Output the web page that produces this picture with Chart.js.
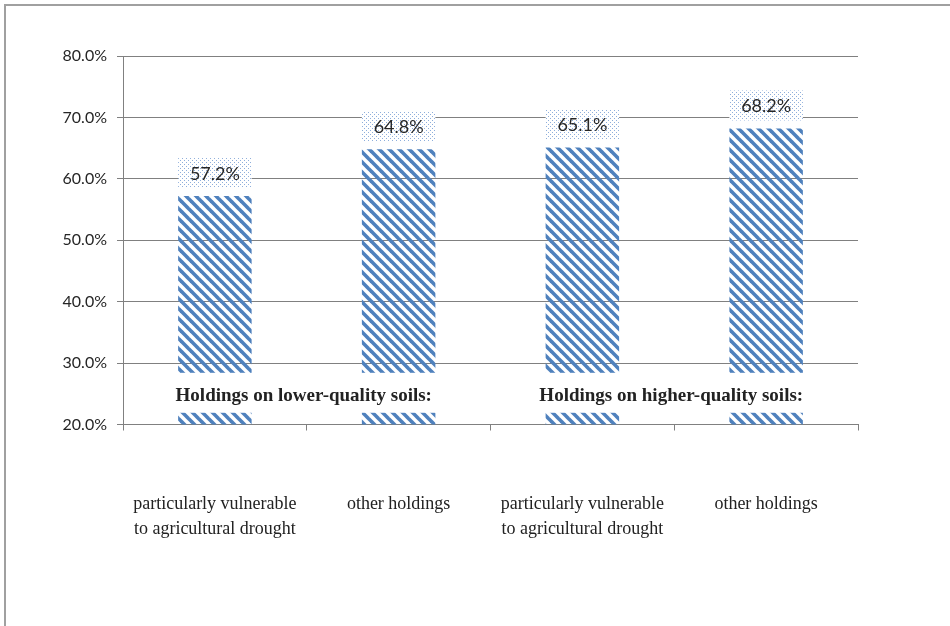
<!DOCTYPE html>
<html>
<head>
<meta charset="utf-8">
<script src="https://cdn.jsdelivr.net/npm/chart.js@4.4.1/dist/chart.umd.min.js"></script>
<style>
  html, body { margin: 0; padding: 0; background: #fff; }
  #chart { display: block; }
</style>
</head>
<body>
<canvas id="chart" width="950" height="626"></canvas>
<script>
const categories = [
    ["particularly vulnerable", "to agricultural drought"],
    ["other holdings"],
    ["particularly vulnerable", "to agricultural drought"],
    ["other holdings"]
];
const shares = [57.2, 64.8, 65.1, 68.2];
const yTicks = [20, 30, 40, 50, 60, 70, 80];
const groupLabels = ["Holdings on lower-quality soils:", "Holdings on higher-quality soils:"];
const groupSpans = [[0, 1], [2, 3]];
const groupLabelValue = 25;

// diagonal stripes for the bars
function makeStripes() {
    const c = document.createElement("canvas");
    c.width = 10;
    c.height = 10;
    const g = c.getContext("2d");
    g.strokeStyle = "#4f81bd";
    g.lineWidth = 3.6;
    for (let k = -1; k <= 1; k++) {
        g.beginPath();
        g.moveTo(-2, -2 + 10 * k);
        g.lineTo(12, 12 + 10 * k);
        g.stroke();
    }
    return g.createPattern(c, "repeat");
}

// light dotted fill behind the value labels
function makeDots() {
    const c = document.createElement("canvas");
    c.width = 4;
    c.height = 4;
    const g = c.getContext("2d");
    g.fillStyle = "#fff";
    g.fillRect(0, 0, 4, 4);
    g.fillStyle = "#8eaedb";
    g.fillRect(0, 0, 1, 1);
    g.fillRect(2, 2, 1, 1);
    return g.createPattern(c, "repeat");
}

const ctx = document.getElementById("chart");
const stripes = makeStripes();
const dots = makeDots();

const framePlugin = {
    id: "frame",
    beforeDraw(chart) {
        const c = chart.ctx;
        c.save();
        c.strokeStyle = "#a0a0a0";
        c.lineWidth = 2;
        c.beginPath();
        c.moveTo(5, 700);
        c.lineTo(5, 5);
        c.lineTo(960, 5);
        c.stroke();
        c.restore();
    }
};

const labelsPlugin = {
    id: "barLabels",
    afterDatasetsDraw(chart) {
        const c = chart.ctx;
        const meta = chart.getDatasetMeta(0);
        const x = chart.scales.x;
        const y = chart.scales.y;
        c.save();

        // value boxes above each bar
        meta.data.forEach((bar, i) => {
            const w = bar.width;
            const top = bar.y - 38;
            c.fillStyle = dots;
            c.fillRect(bar.x - w / 2, top, w, 30);
            c.fillStyle = "#262626";
            c.font = "18px Lato";
            c.textAlign = "center";
            c.textBaseline = "middle";
            c.fillText(shares[i].toFixed(1) + "%", bar.x, top + 16);
        });

        // group captions on white boxes across the bars
        groupLabels.forEach((text, i) => {
            const a = x.getPixelForValue(groupSpans[i][0]);
            const b = x.getPixelForValue(groupSpans[i][1]);
            const cx = (a + b) / 2 - 3;
            const cy = y.getPixelForValue(groupLabelValue);
            c.fillStyle = "#fff";
            c.fillRect(a - 42, cy - 21, b - a + 84, 40);
            c.fillStyle = "#222";
            c.font = "bold 19px 'Liberation Serif'";
            c.textAlign = "center";
            c.textBaseline = "middle";
            c.fillText(text, cx, cy + 2);
        });
        c.restore();
    }
};

new Chart(ctx, {
    type: "bar",
    data: {
        labels: categories,
        datasets: [{
            data: shares,
            backgroundColor: stripes,
            borderWidth: 0,
            barPercentage: 0.8,
            categoryPercentage: 0.5
        }]
    },
    options: {
        responsive: false,
        animation: false,
        layout: {
            padding: { top: 56, right: 92, bottom: 0, left: 0 }
        },
        scales: {
            x: {
                afterFit: function(scale) { scale.height = 201.5; },
                grid: {
                    drawOnChartArea: false,
                    drawTicks: true,
                    tickLength: 6,
                    color: "#808080",
                    offset: true
                },
                border: { color: "#808080" },
                ticks: {
                    padding: 62,
                    color: "#222",
                    font: { family: "'Liberation Serif'", size: 18, lineHeight: 1.35 },
                    maxRotation: 0,
                    autoSkip: false
                }
            },
            y: {
                min: yTicks[0],
                max: yTicks[yTicks.length - 1],
                afterFit: function(scale) { scale.width = 123; },
                afterBuildTicks: function(scale) {
                    scale.ticks = yTicks.map(v => ({ value: v }));
                },
                grid: {
                    color: "#808080",
                    tickLength: 6
                },
                border: { color: "#808080" },
                ticks: {
                    padding: 10,
                    color: "#262626",
                    font: { family: "Lato", size: 16 },
                    callback: function(value) {
                        return value.toFixed(1) + "%";
                    }
                }
            }
        },
        plugins: {
            legend: { display: false },
            tooltip: { enabled: false }
        }
    },
    plugins: [framePlugin, labelsPlugin]
});
</script>
</body>
</html>
